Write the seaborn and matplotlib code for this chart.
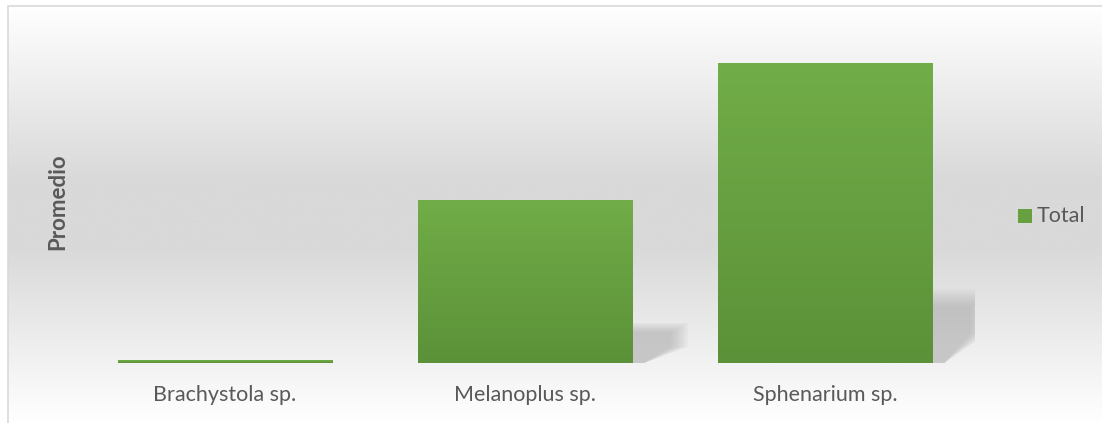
import numpy as np
import matplotlib.pyplot as plt
import matplotlib.colors as mcolors
from matplotlib.patches import Rectangle, Polygon
import seaborn as sns
import pandas as pd

sns.set_style("white")
plt.rcParams['font.family'] = ['Lato', 'DejaVu Sans']

species = ["Brachystola sp.", "Melanoplus sp.", "Sphenarium sp."]
promedio = [1.0, 54.3, 100.0]
series_name = "Total"

text_color = "#595959"
bar_top = "#71AD48"
bar_bottom = "#5B9138"

df = pd.DataFrame({"Especie": species, "Promedio": promedio})

fig = plt.figure(figsize=(11.02, 4.23), dpi=100)

# background gradient of the chart frame
bg = fig.add_axes([0, 0, 1, 1], zorder=-10)
bg_cmap = mcolors.LinearSegmentedColormap.from_list(
    "bg", [(0, "#ffffff"), (0.42, "#d9d9d9"), (0.58, "#d9d9d9"), (1, "#ffffff")])
grad = np.linspace(0, 1, 256).reshape(-1, 1)
bg.imshow(grad, aspect="auto", cmap=bg_cmap, extent=[8 / 1102, 1, 0, 1 - 6 / 423],
          origin="upper")
bg.set_xlim(0, 1)
bg.set_ylim(0, 1)
bg.axis("off")
fig.patches.append(Rectangle((8 / 1102, -0.01), 1, 1 - 6 / 423 + 0.01,
                             transform=fig.transFigure, fill=False,
                             edgecolor="#d9d9d9", linewidth=1.2))

ax = fig.add_axes([75 / 1102, 1 - 363 / 423, 900 / 1102, 323 / 423])
ax.patch.set_alpha(0)

sns.barplot(data=df, x="Especie", y="Promedio", color=bar_bottom,
            width=0.715, linewidth=0, ax=ax, zorder=3)

# gradient fill and soft shadow for each bar
bar_cmap = mcolors.LinearSegmentedColormap.from_list("bar", [bar_bottom, bar_top])
for p in ax.patches:
    x0, y0 = p.get_x(), p.get_y()
    w, h = p.get_width(), p.get_height()
    im = ax.imshow(grad, aspect="auto", cmap=bar_cmap, origin="lower",
                   extent=[x0, x0 + w, y0, y0 + h], zorder=4)
    im.set_clip_path(p)
    if h > 10:
        x1 = x0 + w
        sw, sh = 0.13, 0.19 * h
        for k in range(8):
            g = k * 0.008
            gy = k * 0.008 * h
            shape = [(x1, sh + gy), (x1 + sw + g, sh + gy),
                     (x1 + sw + g, 0.1 * h), (x1 + 0.04, 0), (x1, 0)]
            ax.add_patch(Polygon(shape, closed=True, facecolor="#9a9a9a",
                                 edgecolor="none", alpha=0.07, zorder=2))

ax.set_xlim(-0.5, 2.5)
ax.set_ylim(0, 107.7)
ax.set_yticks([])
ax.set_xlabel("")
ax.set_ylabel("Promedio", fontsize=16, fontweight="bold", color=text_color, labelpad=5)
ax.tick_params(axis="x", length=0, pad=16, labelsize=15.5, labelcolor=text_color)
sns.despine(ax=ax, left=True, bottom=True)

fig.patches.append(Rectangle((1018 / 1102, 1 - 223 / 423), 14 / 1102, 14 / 423,
                             transform=fig.transFigure, facecolor="#66A03F",
                             edgecolor="none"))
fig.text(1037 / 1102, 1 - 216 / 423, series_name, fontsize=15.5, color=text_color,
         va="center", ha="left")

fig.savefig("out.png", dpi=100)
